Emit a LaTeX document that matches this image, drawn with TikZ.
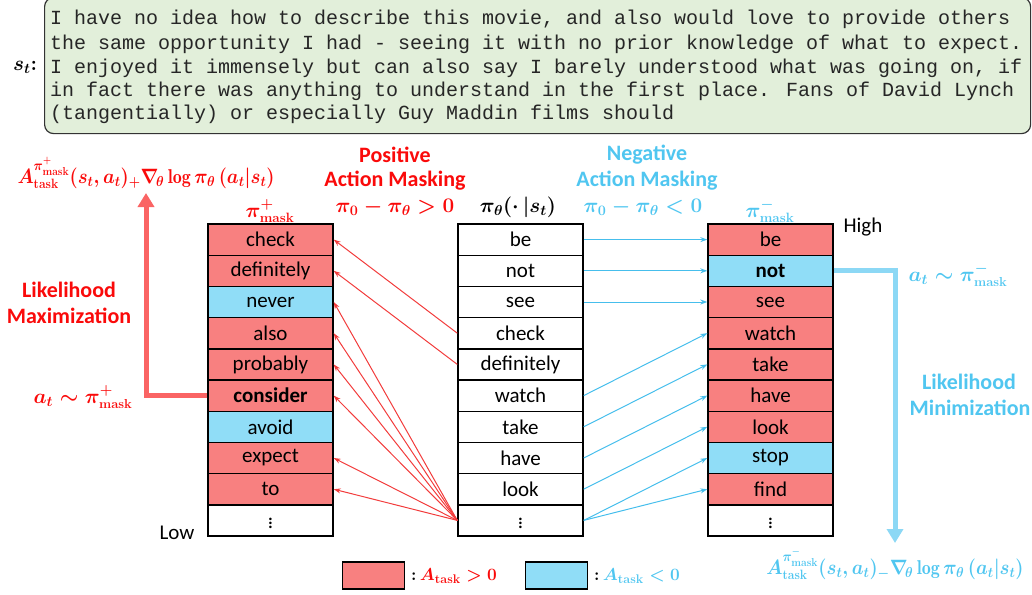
\documentclass[tikz,border=0pt]{standalone}
\usepackage{amsmath}
\usepackage{fontspec}
\newfontfamily\calib{Carlito}
\newfontfamily\monofnt{Liberation Mono}
\usetikzlibrary{arrows.meta}

\definecolor{cellred}{RGB}{248,128,128}
\definecolor{cellblue}{RGB}{144,221,247}
\definecolor{txtred}{RGB}{250,10,10}
\definecolor{txtblue}{RGB}{80,198,240}
\definecolor{arrred}{RGB}{242,60,60}
\definecolor{arrblue}{RGB}{70,190,236}
\definecolor{thickred}{RGB}{250,100,100}
\definecolor{thickblue}{RGB}{140,216,245}
\definecolor{boxgreen}{RGB}{226,239,218}

% bold upright sub/superscript words at explicit sizes
\newcommand{\msk}[1]{\text{\fontsize{#1}{#1}\selectfont\bfseries mask}}
\newcommand{\tsk}[1]{\text{\fontsize{#1}{#1}\selectfont\bfseries task}}
\newcommand{\gradterm}[1]{\scalebox{0.9}[1]{$A^{\pi^{#1}_{\msk{11.5}}}_{\tsk{13.5}}(s_t,a_t)_{#1}\nabla_{\!\theta}\log\pi_\theta\,(a_t|s_t)$}}

\begin{document}
\begin{tikzpicture}[x=1pt,y=-1pt,
  cell/.style={draw=black, line width=1.4pt, minimum width=125pt, minimum height=31.2pt,
    inner sep=0pt, font=\calib\fontsize{21}{24}\selectfont},
  posc/.style={cell, fill=cellred},
  negc/.style={cell, fill=cellblue},
  blankc/.style={cell, fill=white},
  ctxline/.style={anchor=base west, inner sep=0pt, text=black!85,
    font=\monofnt\fontsize{20}{23.5}\selectfont},
  head/.style={inner sep=0pt, font=\calib\bfseries\fontsize{22}{24}\selectfont},
  mathlbl/.style={inner sep=0pt, font=\fontsize{20}{24}\selectfont\boldmath},
  keylbl/.style={inner sep=0pt, anchor=west, font=\fontsize{18.5}{22}\selectfont\boldmath},
  plainlbl/.style={inner sep=0pt, font=\calib\fontsize{21}{24}\selectfont},
  redarr/.style={draw=arrred, line width=1pt, -{Stealth[length=7pt,width=5pt]}},
  bluearr/.style={draw=arrblue, line width=1pt, -{Stealth[length=7pt,width=5pt]}},
  bigred/.style={draw=thickred, line width=5pt, -{Triangle[length=14pt,width=16pt]}},
  bigblue/.style={draw=thickblue, line width=5pt, -{Triangle[length=14pt,width=16pt]}},
  legendbox/.style={draw=black, line width=1.2pt, minimum width=62pt, minimum height=27pt, inner sep=0pt}
]
\useasboundingbox (0,0) rectangle (1032,594);

% context box
\node[draw=black!80, line width=1.2pt, rounded corners=9pt, fill=boxgreen,
      minimum width=986pt, minimum height=136pt, anchor=north west, inner sep=0pt] (ctx) at (44,-3) {};
\node[ctxline] (c1) at (50,25) {I have no idea how to describe this movie, and also would love to provide others};
\node[ctxline] (c2) at (50,49) {the same opportunity I had - seeing it with no prior knowledge of what to expect.};
\node[ctxline] (c3) at (50,73) {I enjoyed it immensely but can also say I barely understood what was going on, if};
\node[ctxline] (c4) at (50,96) {in fact there was anything to understand in the first place. Fans of David Lynch};
\node[ctxline] (c5) at (50,119) {(tangentially) or especially Guy Maddin films should};
\node[mathlbl] (st) at (25,67) {$s_t\mathbf{:}$};

% left column: positive masked policy
\node[posc]  (L1)  at (270.5,239.6) {check};
\node[posc]  (L2)  at (270.5,270.8) {definitely};
\node[negc]  (L3)  at (270.5,302.0) {never};
\node[posc]  (L4)  at (270.5,333.2) {also};
\node[posc]  (L5)  at (270.5,364.4) {probably};
\node[posc]  (L6)  at (270.5,395.6) {\bfseries consider};
\node[negc]  (L7)  at (270.5,426.8) {avoid};
\node[posc]  (L8)  at (270.5,458.0) {expect};
\node[posc]  (L9)  at (270.5,489.2) {to};
\node[blankc](L10) at (270.5,520.4) {$\vdots$};

% middle column: current policy
\node[blankc] (M1)  at (520.5,239.6) {be};
\node[blankc] (M2)  at (520.5,270.8) {not};
\node[blankc] (M3)  at (520.5,302.0) {see};
\node[blankc] (M4)  at (520.5,333.2) {check};
\node[blankc] (M5)  at (520.5,364.4) {definitely};
\node[blankc] (M6)  at (520.5,395.6) {watch};
\node[blankc] (M7)  at (520.5,426.8) {take};
\node[blankc] (M8)  at (520.5,458.0) {have};
\node[blankc] (M9)  at (520.5,489.2) {look};
\node[blankc] (M10) at (520.5,520.4) {$\vdots$};

% right column: negative masked policy
\node[posc]  (R1)  at (770.5,239.6) {be};
\node[negc]  (R2)  at (770.5,270.8) {\bfseries not};
\node[posc]  (R3)  at (770.5,302.0) {see};
\node[posc]  (R4)  at (770.5,333.2) {watch};
\node[posc]  (R5)  at (770.5,364.4) {take};
\node[posc]  (R6)  at (770.5,395.6) {have};
\node[posc]  (R7)  at (770.5,426.8) {look};
\node[negc]  (R8)  at (770.5,458.0) {stop};
\node[posc]  (R9)  at (770.5,489.2) {find};
\node[blankc](R10) at (770.5,520.4) {$\vdots$};

% positive masking connectors
\draw[redarr] (M4.west) -- (L1.east);
\draw[redarr] (M5.west) -- (L2.east);
\foreach \t in {L3,L4,L5,L6,L8,L9}
  \draw[redarr] (M10.west) -- (\t.east);

% negative masking connectors
\draw[bluearr] (M1.east) -- (R1.west);
\draw[bluearr] (M2.east) -- (R2.west);
\draw[bluearr] (M3.east) -- (R3.west);
\draw[bluearr] (M6.east) -- (R4.west);
\draw[bluearr] (M7.east) -- (R5.west);
\draw[bluearr] (M8.east) -- (R6.west);
\draw[bluearr] (M9.east) -- (R7.west);
\draw[bluearr] (M10.east) -- (R8.west);
\draw[bluearr] (M10.east) -- (R9.west);

% likelihood arrows
\coordinate (maxtip) at (146,193);
\coordinate (mintip) at (895,543);
\draw[bigred] (L6.west) -| (maxtip);
\draw[bigblue] (R2.east) -| (mintip);

% column headers
\node[mathlbl, text=txtred] (hpos) at (270,211) {$\pi^{+}_{\msk{13.5}}$};
\node[mathlbl] (hmid) at (518,207) {$\pi_\theta(\cdot\,|s_t)$};
\node[mathlbl, text=txtblue] (hneg) at (770,211) {$\pi^{-}_{\msk{13.5}}$};
\node[plainlbl] (high) at (863,227) {High};
\node[plainlbl] (low) at (177,533) {Low};

% masking headings
\node[head, text=txtred] (p1) at (395,155) {Positive};
\node[head, text=txtred] (p2) at (395,181) {Action Masking};
\node[mathlbl, text=txtred] (p3) at (395,207) {$\pi_0-\pi_\theta>0$};
\node[head, text=txtblue] (n1) at (647,155) {Negative};
\node[head, text=txtblue] (n2) at (647,181) {Action Masking};
\node[mathlbl, text=txtblue] (n3) at (643,207) {$\pi_0-\pi_\theta<0$};

% left side labels
\node[mathlbl, text=txtred] (gpos) at (146,173) {\gradterm{+}};
\node[head, text=txtred] (lm1) at (69,290) {Likelihood};
\node[head, text=txtred] (lm2) at (69,316) {Maximization};
\node[mathlbl, text=txtred] (apos) at (83,397) {$a_t\sim\pi^{+}_{\msk{13}}$};

% right side labels
\node[mathlbl, text=txtblue] (aneg) at (958,275) {$a_t\sim\pi^{-}_{\msk{13}}$};
\node[head, text=txtblue] (ln1) at (969,382) {Likelihood};
\node[head, text=txtblue] (ln2) at (970,408) {Minimization};
\node[mathlbl, text=txtblue] (gneg) at (895,564) {\gradterm{-}};

% legend
\node[legendbox, fill=cellred] (kpos) at (373.5,575.5) {};
\node[keylbl] (kposl) at (411,576)
  {$:\,$\textcolor{txtred}{$A_{\tsk{12.5}}>0$}};
\node[legendbox, fill=cellblue] (kneg) at (556.5,575.5) {};
\node[keylbl] (knegl) at (594,576)
  {$:\,$\textcolor{txtblue}{$A_{\tsk{12.5}}<0$}};
\end{tikzpicture}
\end{document}
